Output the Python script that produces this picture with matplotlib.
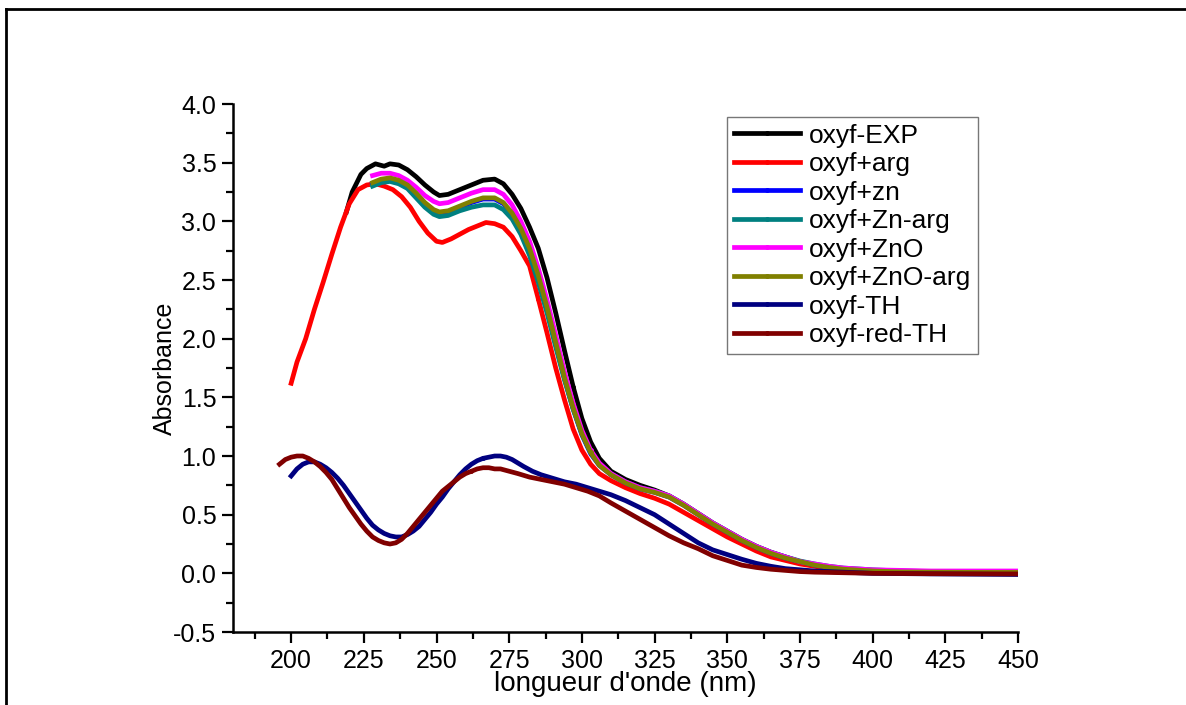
import numpy as np
import matplotlib
matplotlib.use("Agg")
import matplotlib.pyplot as plt
from matplotlib.lines import Line2D
from matplotlib.ticker import MultipleLocator, FormatStrFormatter

plt.rcParams["font.family"] = ["Liberation Sans", "DejaVu Sans"]

# --- Daten ---
wl_exp = [219, 221, 224, 226, 229, 232, 234, 237, 240, 243, 246, 249, 251, 254, 258,
          262, 266, 270, 273, 276, 279, 282, 285, 288, 291, 294, 297, 300, 303, 306,
          310, 315, 320, 325, 330, 335, 340, 345, 350, 355, 360, 365, 370, 375, 380,
          385, 390, 400, 410, 420, 435, 450]
abs_exp = [3.08, 3.25, 3.40, 3.45, 3.49, 3.47, 3.49, 3.48, 3.44, 3.38, 3.31, 3.25, 3.22, 3.23, 3.27,
           3.31, 3.35, 3.36, 3.32, 3.23, 3.11, 2.95, 2.77, 2.52, 2.22, 1.90, 1.59, 1.32, 1.12, 0.98,
           0.87, 0.80, 0.75, 0.71, 0.66, 0.59, 0.51, 0.43, 0.36, 0.29, 0.23, 0.18, 0.14, 0.10, 0.075,
           0.055, 0.04, 0.025, 0.015, 0.01, 0.008, 0.007]

wl_arg = [200, 202, 205, 208, 211, 214, 217, 220, 223, 226, 229, 232, 235, 238, 241,
          244, 247, 250, 252, 255, 258, 261, 264, 267, 270, 273, 276, 279, 282, 285,
          288, 291, 294, 297, 300, 303, 306, 310, 315, 320, 325, 330, 335, 340, 345,
          350, 355, 360, 365, 370, 375, 380, 385, 390, 400, 410, 420, 435, 450]
abs_arg = [1.62, 1.80, 2.00, 2.25, 2.48, 2.72, 2.95, 3.15, 3.27, 3.31, 3.32, 3.30, 3.27, 3.21, 3.12,
           3.00, 2.90, 2.83, 2.82, 2.85, 2.89, 2.93, 2.96, 2.99, 2.98, 2.95, 2.87, 2.75, 2.62, 2.34,
           2.05, 1.75, 1.48, 1.23, 1.05, 0.93, 0.85, 0.79, 0.73, 0.68, 0.64, 0.59, 0.52, 0.45, 0.38,
           0.31, 0.25, 0.19, 0.14, 0.11, 0.08, 0.06, 0.04, 0.03, 0.02, 0.012, 0.01, 0.008, 0.008]

wl_grp = [228, 231, 234, 237, 240, 243, 246, 249, 251, 254, 258, 262, 266, 270, 273,
          276, 279, 282, 285, 288, 291, 294, 297, 300, 303, 306, 310, 315, 320, 325,
          330, 335, 340, 345, 350, 355, 360, 365, 370, 375, 380, 385, 390, 400, 410,
          420, 435, 450]
abs_zn = [3.32, 3.35, 3.36, 3.34, 3.30, 3.23, 3.15, 3.09, 3.07, 3.08, 3.12, 3.16, 3.19, 3.19, 3.15,
          3.06, 2.93, 2.76, 2.52, 2.25, 1.95, 1.66, 1.40, 1.18, 1.02, 0.92, 0.84, 0.77, 0.72, 0.69,
          0.65, 0.58, 0.50, 0.42, 0.35, 0.28, 0.22, 0.17, 0.13, 0.10, 0.07, 0.05, 0.035, 0.02, 0.012,
          0.01, 0.006, 0.004]
abs_znarg = [3.30, 3.33, 3.34, 3.32, 3.28, 3.20, 3.12, 3.06, 3.04, 3.05, 3.09, 3.12, 3.14, 3.14, 3.10,
             3.02, 2.89, 2.71, 2.48, 2.22, 1.93, 1.65, 1.40, 1.19, 1.03, 0.93, 0.85, 0.78, 0.73, 0.70,
             0.66, 0.59, 0.51, 0.43, 0.36, 0.29, 0.23, 0.18, 0.14, 0.105, 0.08, 0.06, 0.045, 0.03, 0.02,
             0.015, 0.012, 0.01]
abs_zno = [3.39, 3.41, 3.41, 3.39, 3.35, 3.29, 3.22, 3.17, 3.15, 3.16, 3.20, 3.24, 3.27, 3.27, 3.23,
           3.14, 3.00, 2.83, 2.60, 2.33, 2.03, 1.72, 1.45, 1.22, 1.05, 0.94, 0.85, 0.78, 0.73, 0.70,
           0.66, 0.59, 0.51, 0.43, 0.36, 0.29, 0.23, 0.18, 0.14, 0.10, 0.08, 0.06, 0.045, 0.03, 0.025,
           0.02, 0.02, 0.02]
abs_znoarg = [3.33, 3.36, 3.37, 3.35, 3.31, 3.24, 3.16, 3.10, 3.08, 3.09, 3.13, 3.17, 3.20, 3.20, 3.16,
              3.07, 2.94, 2.77, 2.54, 2.27, 1.97, 1.67, 1.41, 1.19, 1.03, 0.92, 0.84, 0.77, 0.72, 0.69,
              0.65, 0.58, 0.50, 0.42, 0.35, 0.28, 0.22, 0.17, 0.13, 0.10, 0.07, 0.05, 0.035, 0.02, 0.012,
              0.01, 0.008, 0.008]

wl_th = [200, 202, 204, 206, 208, 210, 212, 214, 216, 218, 220, 222, 224, 226, 228,
         230, 232, 234, 236, 238, 240, 242, 244, 246, 248, 250, 252, 254, 256, 258,
         260, 262, 264, 266, 268, 270, 272, 274, 276, 278, 280, 283, 286, 290, 294,
         298, 302, 306, 310, 315, 320, 325, 330, 335, 340, 345, 350, 355, 360, 365,
         370, 375, 380, 390, 400, 420, 450]
abs_th = [0.83, 0.89, 0.93, 0.95, 0.95, 0.93, 0.90, 0.86, 0.81, 0.75, 0.68, 0.61, 0.54, 0.47, 0.41,
          0.37, 0.34, 0.32, 0.31, 0.31, 0.33, 0.36, 0.40, 0.46, 0.52, 0.59, 0.65, 0.72, 0.78, 0.84,
          0.89, 0.93, 0.96, 0.98, 0.99, 1.00, 1.00, 0.99, 0.97, 0.94, 0.91, 0.87, 0.84, 0.81, 0.78,
          0.76, 0.73, 0.70, 0.67, 0.62, 0.56, 0.50, 0.42, 0.34, 0.26, 0.20, 0.16, 0.12, 0.085, 0.06,
          0.04, 0.03, 0.02, 0.01, 0.0, -0.005, -0.01]

wl_redth = [196, 198, 200, 202, 204, 206, 208, 210, 212, 214, 216, 218, 220, 222, 224,
            226, 228, 230, 232, 234, 236, 238, 240, 242, 244, 246, 248, 250, 252, 254,
            256, 258, 260, 262, 264, 266, 268, 270, 272, 275, 278, 282, 286, 290, 294,
            298, 302, 306, 310, 315, 320, 325, 330, 335, 340, 345, 350, 355, 360, 365,
            370, 375, 380, 390, 400, 420, 450]
abs_redth = [0.93, 0.97, 0.99, 1.00, 1.00, 0.98, 0.95, 0.91, 0.86, 0.80, 0.72, 0.64, 0.56, 0.49, 0.42,
             0.36, 0.31, 0.28, 0.26, 0.25, 0.26, 0.29, 0.34, 0.40, 0.46, 0.52, 0.58, 0.64, 0.70, 0.74,
             0.78, 0.82, 0.85, 0.87, 0.89, 0.90, 0.90, 0.89, 0.89, 0.87, 0.85, 0.82, 0.80, 0.78, 0.76,
             0.73, 0.70, 0.66, 0.60, 0.53, 0.46, 0.39, 0.32, 0.26, 0.21, 0.15, 0.11, 0.07, 0.05, 0.035,
             0.025, 0.015, 0.01, 0.005, 0.0, -0.003, -0.005]

series = [
    ("oxyf-EXP", wl_exp, abs_exp, "#000000"),
    ("oxyf+arg", wl_arg, abs_arg, "#FF0000"),
    ("oxyf+zn", wl_grp, abs_zn, "#0000FF"),
    ("oxyf+Zn-arg", wl_grp, abs_znarg, "#008080"),
    ("oxyf+ZnO", wl_grp, abs_zno, "#FF00FF"),
    ("oxyf+ZnO-arg", wl_grp, abs_znoarg, "#808000"),
    ("oxyf-TH", wl_th, abs_th, "#000080"),
    ("oxyf-red-TH", wl_redth, abs_redth, "#800000"),
]

fig = plt.figure(figsize=(11.86, 7.05), dpi=100)
ax = fig.add_axes([233 / 1186, 1 - 632 / 705, (1018 - 233) / 1186, (632 - 104) / 705])

for label, x, y, col in series:
    ax.plot(x, y, color=col, linewidth=3.4, label=label,
            marker="o", markersize=2.5, markevery=[len(x) // 2])

ax.set_xlim(180, 450)
ax.set_ylim(-0.5, 4.0)
ax.set_xticks(np.arange(200, 451, 25))
ax.xaxis.set_minor_locator(MultipleLocator(12.5))
ax.yaxis.set_major_locator(MultipleLocator(0.5))
ax.yaxis.set_minor_locator(MultipleLocator(0.25))
ax.yaxis.set_major_formatter(FormatStrFormatter("%.1f"))

for s in ["top", "right"]:
    ax.spines[s].set_visible(False)
for s in ["left", "bottom"]:
    ax.spines[s].set_linewidth(1.8)
ax.tick_params(which="major", direction="out", length=8, width=1.6, labelsize=18, pad=4)
ax.tick_params(which="minor", direction="out", length=5, width=1.6)

ax.set_xlabel("longueur d'onde (nm)", fontsize=20, labelpad=-1)
ax.set_ylabel("Absorbance", fontsize=18, labelpad=-3)

leg = ax.legend(loc="upper left", bbox_to_anchor=(727 / 1186, 1 - 117 / 705),
                bbox_transform=fig.transFigure, borderaxespad=0, fontsize=19,
                frameon=True, fancybox=False, handlelength=2.5, handletextpad=0.35,
                labelspacing=0.17, borderpad=0.25, numpoints=1)
leg.get_frame().set_edgecolor("#555555")
leg.get_frame().set_linewidth(1.0)

# Rahmen um die Abbildung (oben und links)
fig.add_artist(Line2D([6 / 1186, 1], [1 - 9 / 705, 1 - 9 / 705],
                      transform=fig.transFigure, color="black", linewidth=2))
fig.add_artist(Line2D([6 / 1186, 6 / 1186], [0, 1 - 9 / 705],
                      transform=fig.transFigure, color="black", linewidth=2))

fig.savefig("out.png", dpi=100)
plt.close(fig)
